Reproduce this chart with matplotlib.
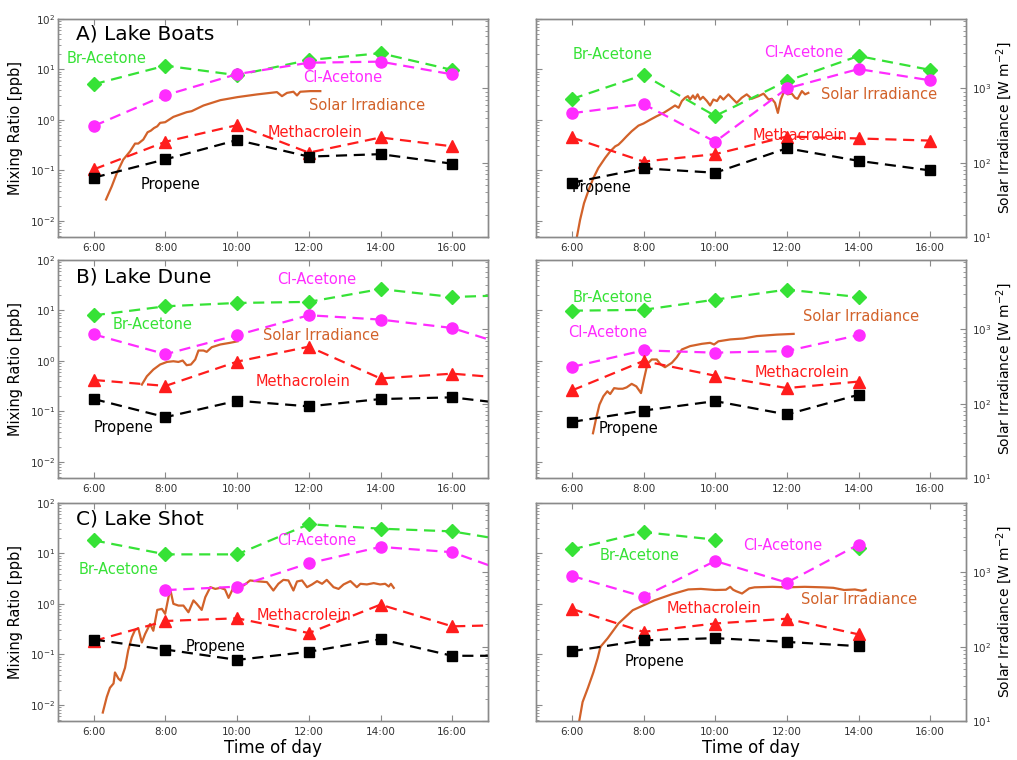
import matplotlib
matplotlib.use("Agg")
import matplotlib.pyplot as plt
import numpy as np

# 시간 축 (hours)
hours6 = [6, 8, 10, 12, 14, 16]
hours7 = [6, 8, 10, 12, 14, 16, 18]
hours5 = [6, 8, 10, 12, 14]
tick_hours = [6, 8, 10, 12, 14, 16]
tick_labels = ["6:00", "8:00", "10:00", "12:00", "14:00", "16:00"]

# A) Lake Boats - left / right
boats1_br = [5.1, 11.9, 7.7, 15.4, 21.0, 9.8]
boats1_cl = [0.76, 3.1, 8.1, 13.6, 14.3, 8.0]
boats1_mac = [0.105, 0.37, 0.79, 0.225, 0.45, 0.30]
boats1_pro = [0.072, 0.166, 0.40, 0.188, 0.21, 0.136]
boats1_sun_t = [6.34, 6.5, 6.64, 6.82, 7.01, 7.15, 7.24, 7.38, 7.5, 7.59, 7.68, 7.77, 7.85, 7.99,
                8.22, 8.59, 8.73, 9.06, 9.53, 10.01, 10.55, 11.11, 11.25, 11.39, 11.57, 11.67,
                11.76, 12.04, 12.32]
boats1_sun = [32, 48, 72, 110, 142, 181, 181, 205, 257, 270, 293, 309, 344, 351,
              414, 479, 494, 589, 695, 764, 830, 892, 787, 871, 902, 804,
              902, 920, 920]

boats2_br = [2.6, 7.8, 1.2, 5.9, 18.5, 9.8]
boats2_cl = [1.36, 2.07, 0.37, 4.2, 10.2, 6.1]
boats2_mac = [0.45, 0.15, 0.21, 0.47, 0.43, 0.39]
boats2_pro = [0.057, 0.11, 0.09, 0.275, 0.155, 0.10]
boats2_sun_t = [6.09, 6.23, 6.34, 6.47, 6.6, 6.74, 6.93, 7.07, 7.21, 7.3, 7.4, 7.53, 7.67, 7.86,
                8.0, 8.19, 8.37, 8.56, 8.74, 8.88, 8.98, 9.07, 9.16, 9.24, 9.3, 9.38, 9.44,
                9.51, 9.58, 9.66, 9.77, 9.86, 9.95, 10.05, 10.14, 10.23, 10.37, 10.49, 10.6,
                10.74, 10.88, 11.02, 11.21, 11.35, 11.49, 11.58, 11.67, 11.75, 11.83, 11.93,
                12.02, 12.14, 12.23, 12.3, 12.42, 12.51, 12.6]
boats2_sun = [7.4, 17, 28.5, 43, 62, 85, 116, 142, 166, 175, 195, 227, 265, 316,
              337, 380, 423, 468, 531, 589, 549, 676, 748, 787, 709, 804, 725,
              832, 709, 771, 676, 589, 709, 676, 787, 709, 832, 725, 640,
              748, 832, 725, 787, 851, 709, 725, 640, 468, 709, 920,
              832, 851, 748, 725, 920, 832, 871]

# B) Lake Dune
dune1_br = [8.0, 12.1, 14.1, 14.8, 26.6, 18.5, 20.5]
dune1_cl = [3.36, 1.36, 3.25, 8.05, 6.6, 4.5, 1.6]
dune1_mac = [0.42, 0.32, 0.97, 1.92, 0.45, 0.56, 0.43]
dune1_pro = [0.176, 0.077, 0.163, 0.126, 0.176, 0.19, 0.13]
dune1_sun_t = [7.34, 7.48, 7.66, 7.85, 8.04, 8.22, 8.36, 8.48, 8.59, 8.71, 8.83, 8.92, 9.06,
               9.15, 9.29, 9.53, 9.8, 10.01]
dune1_sun = [181, 234, 288, 337, 365, 373, 365, 381, 330, 337, 394, 520, 520,
             499, 576, 627, 660, 692]

dune2_br = [9.9, 10.3, 16.4, 25.9, 18.5]
dune2_cl = [0.76, 1.62, 1.46, 1.57, 3.25]
dune2_mac = [0.26, 1.0, 0.51, 0.29, 0.39]
dune2_pro = [0.062, 0.104, 0.16, 0.087, 0.214]
dune2_sun_t = [6.59, 6.68, 6.77, 6.88, 6.99, 7.07, 7.18, 7.3, 7.42, 7.53, 7.67, 7.8, 7.93, 8.02,
               8.11, 8.23, 8.37, 8.48, 8.6, 8.79, 8.93, 9.07, 9.3, 9.63, 9.86, 9.97, 10.09,
               10.42, 10.79, 11.16, 11.72, 12.19]
dune2_sun = [40, 64, 97, 126, 147, 135, 162, 159, 159, 166, 185, 171, 139, 222,
             344, 394, 394, 337, 310, 355, 423, 537, 596, 640, 660, 627, 692,
             733, 755, 813, 851, 871]

# C) Lake Shot
shot1_br = [18.2, 9.6, 9.6, 38, 31, 27.4, 16]
shot1_cl = [np.nan, 1.88, 2.2, 6.4, 13.5, 10.6, 3.3]
shot1_mac = [0.185, 0.46, 0.52, 0.265, 0.97, 0.36, 0.39]
shot1_pro = [0.197, 0.125, 0.078, 0.113, 0.2, 0.094, 0.094]
shot1_sun_t = [6.25, 6.36, 6.45, 6.55, 6.59, 6.69, 6.75, 6.87, 6.96, 7.06, 7.15, 7.24, 7.34,
               7.43, 7.57, 7.66, 7.77, 7.9, 7.99, 8.13, 8.22, 8.36, 8.5, 8.64, 8.78, 8.87,
               9.01, 9.11, 9.25, 9.39, 9.53, 9.66, 9.76, 9.9, 10.04, 10.18, 10.36, 10.6,
               10.83, 11.01, 11.15, 11.29, 11.43, 11.57, 11.67, 11.81, 11.95, 12.09, 12.23,
               12.37, 12.5, 12.69, 12.83, 12.97, 13.16, 13.34, 13.44, 13.62, 13.81, 13.99,
               14.13, 14.23, 14.29, 14.37]
shot1_sun = [13, 21, 28, 32, 45, 37, 35, 52, 90, 134, 168, 178, 114,
             148, 202, 164, 313, 323, 277, 600, 378, 358, 358, 291, 420, 378,
             313, 464, 633, 600, 620, 590, 454, 633, 689, 667, 780, 757,
             741, 571, 703, 794, 780, 571, 755, 780, 633, 689, 764,
             703, 794, 633, 600, 689, 764, 633, 703, 689, 718, 689,
             703, 646, 703, 620]

shot2_br = [12, 26.5, 18.8, np.nan, 12.9]
shot2_cl = [3.6, 1.39, 7.1, 2.65, 15]
shot2_mac = [0.80, 0.28, 0.41, 0.51, 0.25]
shot2_pro = [0.116, 0.19, 0.21, 0.177, 0.146]
shot2_sun_t = [6.19, 6.3, 6.45, 6.6, 6.72, 6.8, 7.0, 7.3, 7.7, 8.3, 8.8, 9.25, 9.6, 10.0, 10.3,
               10.42, 10.5, 10.58, 10.75, 10.95, 11.1, 11.6, 12.0, 12.5, 13.0, 13.3, 13.6,
               13.9, 14.1, 14.2]
shot2_sun = [9, 18, 28, 45, 70, 100, 130, 205, 310, 420, 510, 590, 600, 580, 585,
             640, 585, 560, 520, 610, 630, 640, 630, 640, 630, 620, 580,
             590, 565, 585]

GREEN = "#36e236"
MAGENTA = "#ff2cff"
RED = "#ff1c1c"
SUN = "#d2622a"
FRAME = "#8a8a8a"

plt.rcParams["font.family"] = ["DejaVu Sans"]

fig = plt.figure(figsize=(10.17, 7.6), dpi=100)

col_x = [58 / 1017, 536 / 1017]
row_y = [1 - 237 / 760, 1 - 478 / 760, 1 - 721 / 760]
w = 430 / 1017
h = 218 / 760
dash = (0, (5, 3))


def panel(col, row, hours, br, cl, mac, pro, sun_t, sun, labels):
    ax = fig.add_axes([col_x[col], row_y[row], w, h])
    ax.set_yscale("log")
    ax.set_ylim(0.0048, 100)
    ax.set_xlim(5, 17)
    ax2 = ax.twinx()
    ax2.set_yscale("log")
    ax2.set_ylim(10, 8600)

    ax2.plot(sun_t, sun, color=SUN, lw=1.6, zorder=1)
    ax.plot(hours, br, ls=dash, color=GREEN, lw=1.6, marker="D", ms=7.5, mec=GREEN, mfc=GREEN)
    ax.plot(hours, cl, ls=dash, color=MAGENTA, lw=1.6, marker="o", ms=8, mec=MAGENTA, mfc=MAGENTA)
    ax.plot(hours, mac, ls=dash, color=RED, lw=1.6, marker="^", ms=8.5, mec=RED, mfc=RED)
    ax.plot(hours, pro, ls=dash, color="black", lw=1.6, marker="s", ms=6.5, mec="black", mfc="black")
    ax.set_zorder(ax2.get_zorder() + 1)
    ax.patch.set_visible(False)

    ax.set_xticks(tick_hours)
    ax.set_xticklabels(tick_labels)
    for a in (ax, ax2):
        for s in a.spines.values():
            s.set_color(FRAME)
            s.set_linewidth(1.0)
        a.tick_params(which="both", direction="in", color=FRAME, labelsize=7.5,
                      labelcolor="#333333")
        a.tick_params(which="major", length=4)
        a.tick_params(which="minor", length=2)
    ax.tick_params(axis="x", top=True, pad=4)
    ax.tick_params(axis="y", pad=2)
    ax2.tick_params(axis="y", pad=4)
    if col == 0:
        ax2.tick_params(labelright=False)
        ax.set_ylabel("Mixing Ratio [ppb]", fontsize=10.5, labelpad=5)
    else:
        ax.tick_params(labelleft=False)
        ax2.set_ylabel("Solar Irradiance [W m$^{-2}$]", fontsize=10, labelpad=2)
    if row == 2:
        ax.set_xlabel("Time of day", fontsize=12, labelpad=2)

    colors = {"Br-Acetone": GREEN, "Cl-Acetone": MAGENTA, "Methacrolein": RED,
              "Propene": "black", "Solar Irradiance": SUN}
    for text, (fx, fy) in labels.items():
        if text in colors:
            ax.text(fx, fy, text, transform=ax.transAxes, color=colors[text],
                    fontsize=10.5, ha="left", va="center", zorder=5)
        else:
            ax.text(fx, fy, text, transform=ax.transAxes, color="black",
                    fontsize=14.5, ha="left", va="center", zorder=5)
    return ax


panel(0, 0, hours6, boats1_br, boats1_cl, boats1_mac, boats1_pro, boats1_sun_t, boats1_sun,
      {"A) Lake Boats": (0.042, 0.931), "Br-Acetone": (0.019, 0.818),
       "Cl-Acetone": (0.569, 0.731), "Solar Irradiance": (0.584, 0.601),
       "Methacrolein": (0.488, 0.478), "Propene": (0.192, 0.239)})
panel(1, 0, hours6, boats2_br, boats2_cl, boats2_mac, boats2_pro, boats2_sun_t, boats2_sun,
      {"Br-Acetone": (0.085, 0.835), "Cl-Acetone": (0.531, 0.847),
       "Solar Irradiance": (0.663, 0.654), "Methacrolein": (0.503, 0.465),
       "Propene": (0.083, 0.228)})
panel(0, 1, hours7, dune1_br, dune1_cl, dune1_mac, dune1_pro, dune1_sun_t, dune1_sun,
      {"B) Lake Dune": (0.042, 0.92), "Cl-Acetone": (0.509, 0.911),
       "Br-Acetone": (0.127, 0.702), "Solar Irradiance": (0.477, 0.653),
       "Methacrolein": (0.46, 0.442), "Propene": (0.082, 0.231)})
panel(1, 1, hours5, dune2_br, dune2_cl, dune2_mac, dune2_pro, dune2_sun_t, dune2_sun,
      {"Br-Acetone": (0.085, 0.829), "Cl-Acetone": (0.075, 0.668),
       "Solar Irradiance": (0.622, 0.74), "Methacrolein": (0.509, 0.483),
       "Propene": (0.145, 0.228)})
panel(0, 2, hours7, shot1_br, shot1_cl, shot1_mac, shot1_pro, shot1_sun_t, shot1_sun,
      {"C) Lake Shot": (0.042, 0.927), "Cl-Acetone": (0.509, 0.83),
       "Br-Acetone": (0.047, 0.697), "Methacrolein": (0.463, 0.485),
       "Propene": (0.297, 0.342)})
panel(1, 2, hours5, shot2_br, shot2_cl, shot2_mac, shot2_pro, shot2_sun_t, shot2_sun,
      {"Br-Acetone": (0.147, 0.757), "Cl-Acetone": (0.481, 0.807),
       "Methacrolein": (0.304, 0.517), "Solar Irradiance": (0.616, 0.557),
       "Propene": (0.205, 0.275)})

fig.savefig("out.png", dpi=100)
